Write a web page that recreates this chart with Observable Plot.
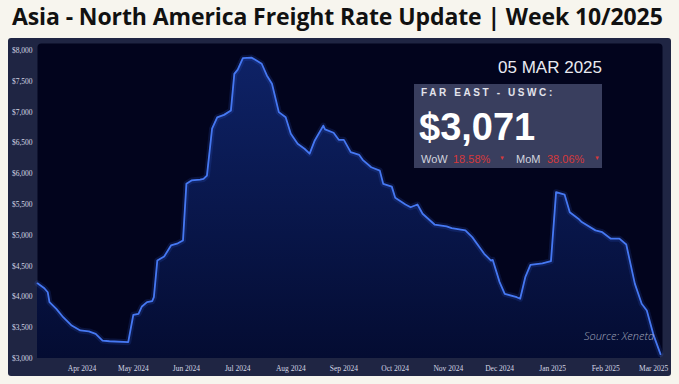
<!DOCTYPE html>
<html>
<head>
<meta charset="utf-8">
<script src="https://cdn.jsdelivr.net/npm/d3@7"></script>
<script src="https://cdn.jsdelivr.net/npm/@observablehq/plot@0.6"></script>
<style>
  html, body { margin: 0; padding: 0; background: #f7f5ee; }
  #wrap { position: relative; width: 679px; height: 384px; overflow: hidden; }
  #title { position: absolute; left: 12px; top: 5px; font: 700 23px/23px "Open Sans", sans-serif; color: #111; white-space: nowrap; letter-spacing: -0.1px; }
  #chart { position: absolute; left: 8px; top: 38px; }
  #chart svg { border-radius: 3px; }
  .ov { position: absolute; white-space: nowrap; font-family: "Liberation Sans", Arial, sans-serif; }
  #date { right: 77px; top: 59px; font-size: 17px; line-height: 17px; color: #e9eaf1; }
  #box { left: 414px; top: 84px; width: 188px; height: 84px; background: #393e5e; }
  #route { left: 421px; top: 88px; font-weight: 700; font-size: 10px; line-height: 10px; letter-spacing: 2.6px; color: #e3e4ec; }
  #value { left: 419px; top: 108px; font-weight: 700; font-size: 38px; line-height: 38px; color: #ffffff; }
  .chg { top: 154px; font-size: 11px; line-height: 11px; }
  .lbl { color: #d2d4de; }
  .red { color: #d6393c; }
  .tri { top: 155px; font-size: 6px; line-height: 6px; color: #d6393c; }
  #source { right: 25px; top: 329px; font: italic 300 11px/13px "Open Sans", sans-serif; color: #a3a8bc; }
</style>
</head>
<body>
<div id="wrap">
  <div id="title">Asia - North America Freight Rate Update | Week 10/2025</div>
  <div id="chart"></div>
  <div class="ov" id="date">05 MAR 2025</div>
  <div class="ov" id="box"></div>
  <div class="ov" id="route">FAR EAST - USWC:</div>
  <div class="ov" id="value">$3,071</div>
  <div class="ov chg lbl" style="left:421px">WoW</div>
  <div class="ov chg red" style="left:453px">18.58%</div>
  <div class="ov tri" style="left:499px">▼</div>
  <div class="ov chg lbl" style="left:516px">MoM</div>
  <div class="ov chg red" style="left:547px">38.06%</div>
  <div class="ov tri" style="left:594px">▼</div>
  <div class="ov" id="source">Source: Xeneta</div>
</div>
<script>
const dates = [
  "2024-03-06","2024-03-10","2024-03-12","2024-03-13","2024-03-17","2024-03-21","2024-03-26","2024-03-31",
  "2024-04-05","2024-04-09","2024-04-13","2024-04-17","2024-04-28","2024-05-01","2024-05-04","2024-05-06",
  "2024-05-09","2024-05-12","2024-05-13","2024-05-15","2024-05-19","2024-05-23","2024-05-27","2024-05-30",
  "2024-06-01","2024-06-04","2024-06-09","2024-06-11","2024-06-13","2024-06-16","2024-06-19","2024-06-23",
  "2024-06-27","2024-06-29","2024-07-01","2024-07-04","2024-07-09","2024-07-11","2024-07-15","2024-07-18",
  "2024-07-21","2024-07-25","2024-07-29","2024-08-01","2024-08-05","2024-08-09","2024-08-12","2024-08-15",
  "2024-08-20","2024-08-21","2024-08-26","2024-08-29","2024-09-01","2024-09-05","2024-09-10","2024-09-12",
  "2024-09-17","2024-09-22","2024-09-24","2024-09-29","2024-10-01","2024-10-07","2024-10-10","2024-10-14",
  "2024-10-17","2024-10-24","2024-10-31","2024-11-03","2024-11-11","2024-11-15","2024-11-22","2024-11-26",
  "2024-11-27","2024-12-01","2024-12-04","2024-12-11","2024-12-13","2024-12-16","2024-12-19","2024-12-26",
  "2024-12-31","2025-01-03","2025-01-08","2025-01-11","2025-01-16","2025-01-18","2025-01-26","2025-01-30",
  "2025-02-04","2025-02-09","2025-02-13","2025-02-18","2025-02-22","2025-02-25","2025-03-01","2025-03-05"
];
const rates = [
  4220,4140,4075,3915,3805,3670,3535,3455,
  3440,3400,3290,3280,3265,3710,3725,3845,
  3915,3930,3995,4590,4655,4835,4870,4915,
  5835,5890,5905,5915,5970,6730,6915,6955,
  7025,7620,7690,7875,7885,7855,7785,7595,
  7460,7000,6915,6650,6485,6405,6325,6540,
  6780,6720,6665,6550,6550,6350,6305,6225,
  6105,6050,5835,5790,5610,5500,5455,5500,
  5350,5175,5145,5115,5080,4970,4700,4590,
  4600,4240,4050,3995,3970,4320,4520,4545,
  4580,5700,5660,5375,5270,5215,5080,5050,
  4945,4945,4850,4215,3890,3780,3375,3071
];
const monthTicks = ["2024-04-01","2024-05-01","2024-06-01","2024-07-01","2024-08-01","2024-09-01",
  "2024-10-01","2024-11-01","2024-12-01","2025-01-01","2025-02-01","2025-03-01"];
const yTicks = [3000,3500,4000,4500,5000,5500,6000,6500,7000,7500,8000];

const data = dates.map((d, i) => ({date: new Date(d + "T00:00:00Z"), rate: rates[i]}));

const defs = () => {
  const g = d3.create("svg:defs");
  const lg = g.append("linearGradient").attr("id", "areaGrad")
    .attr("x1", 0).attr("y1", 0).attr("x2", 0).attr("y2", 1);
  lg.append("stop").attr("offset", "0%").attr("stop-color", "#0e2266");
  lg.append("stop").attr("offset", "100%").attr("stop-color", "#040c32");
  return g.node();
};

const chart = Plot.plot({
  width: 663,
  height: 338,
  marginLeft: 29,
  marginRight: 11,
  marginTop: 12,
  marginBottom: 18,
  style: {background: "#1f2543", fontFamily: "'Liberation Serif', serif", fontSize: "7.5px", color: "#d4d7e3", overflow: "visible"},
  x: {type: "utc", domain: [data[0].date, data[data.length - 1].date]},
  y: {domain: [3000, 8000]},
  marks: [
    defs,
    Plot.frame({fill: "#02041d", stroke: null, rx: 4, insetTop: -7, insetBottom: 3, insetRight: -2}),
    Plot.areaY(data, {x: "date", y1: 3000, y2: "rate", fill: "url(#areaGrad)"}),
    Plot.lineY(data, {x: "date", y: "rate", stroke: "#3d6ef0", strokeWidth: 6, strokeOpacity: 0.15}),
    Plot.lineY(data, {x: "date", y: "rate", stroke: "#4678f2", strokeWidth: 1.8}),
    Plot.axisY({ticks: yTicks, tickFormat: d => "$" + d3.format(",")(d), tickSize: 0, tickPadding: 5, label: null}),
    Plot.axisX({ticks: monthTicks.map(d => new Date(d + "T00:00:00Z")), tickFormat: d3.utcFormat("%b %Y"), tickSize: 0, tickPadding: 7, label: null})
  ]
});
document.getElementById("chart").appendChild(chart);
</script>
</body>
</html>
